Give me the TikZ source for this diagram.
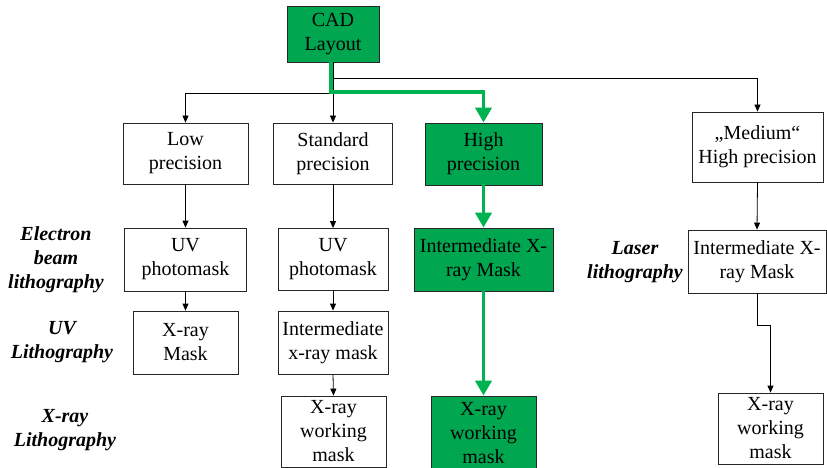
\documentclass[tikz,border=0pt]{standalone}
\usepackage{fontspec}
\setmainfont{Liberation Serif}
\usetikzlibrary{arrows.meta}
\definecolor{boxgreen}{RGB}{0,166,80}
\definecolor{linegreen}{RGB}{0,178,80}
\tikzset{
  box/.style={draw=black!85, line width=0.8pt, fill=white, inner sep=0pt, align=center,
    font=\fontsize{20}{24}\selectfont, minimum width=#1},
  gbox/.style={box=#1, fill=boxgreen},
  lab/.style={align=center, inner sep=0pt, font=\fontsize{20}{24}\selectfont\bfseries\itshape},
  conn/.style={line width=0.8pt, -{Triangle[length=7pt,width=6pt]}},
  gconn/.style={draw=linegreen, line width=3.8pt, -{Triangle[length=15pt,width=16pt]}},
}
\begin{document}
\begin{tikzpicture}[x=1pt,y=-1pt]
\useasboundingbox (0,0) rectangle (827,468);
% boxes
\node[gbox=92pt, minimum height=56pt] (cad) at (333,34) {CAD\\Layout};
\node[box=125pt, minimum height=61pt] (low) at (185.5,153.5) {Low\\precision};
\node[box=119pt, minimum height=61pt] (std) at (333,153.5) {Standard\\precision};
\node[gbox=117pt, minimum height=62pt] (high) at (483.5,154) {High\\precision};
\node[box=131pt, minimum height=70pt] (med) at (757.5,147) {„Medium“\\High precision};
\node[box=122pt, minimum height=63pt] (uva) at (185.5,259.5) {UV\\photomask};
\node[box=110pt, minimum height=62pt] (uvb) at (333,259.5) {UV\\photomask};
\node[gbox=139pt, minimum height=63pt] (imh) at (483.5,259.5) {Intermediate X-\\ray Mask};
\node[box=138pt, minimum height=63pt] (imr) at (757,261.5) {Intermediate X-\\ray Mask};
\node[box=105pt, minimum height=63pt] (xm) at (185.5,342.5) {X-ray\\Mask};
\node[box=110pt, minimum height=63pt] (imx) at (333,342.5) {Intermediate\\x-ray mask};
\node[box=105pt, minimum height=71pt] (xwb) at (333.5,431.5) {X-ray\\working\\mask};
\node[gbox=105pt, minimum height=74pt] (xwg) at (483.5,433) {X-ray\\working\\mask};
\node[box=105pt, minimum height=71pt] (xwr) at (770.5,428.5) {X-ray\\working\\mask};
% labels
\node[lab] (eb) at (56,260) {Electron\\beam\\lithography};
\node[lab] (uvl) at (62,342) {UV\\Lithography};
\node[lab] (xrl) at (65,430) {X-ray\\Lithography};
\node[lab] (las) at (635,262) {Laser\\lithography};
% junctions
\coordinate (j1) at (333,93);
\coordinate (j2) at (333,78);
\coordinate (g1) at (331,92);
\coordinate (k1) at (757,325);
% black connectors
\draw[conn] (cad.south) -- (std.north);
\draw[conn] (j1) -| (low.north);
\draw[conn] (j2) -| (med.north);
\draw[conn] (low.south) -- (uva.north);
\draw[conn] (uva.south) -- (xm.north);
\draw[conn] (std.south) -- (uvb.north);
\draw[conn] (uvb.south) -- (imx.north);
\draw[conn] (imx.south) -- (xwb.north);
\draw[conn] (med.south) -- (imr.north);
\draw[conn] (imr.south) -- (imr.south |- k1) -| (xwr.north);
% green connectors
\draw[gconn] ([xshift=-2pt]cad.south) -- ([xshift=-2pt]cad.south |- g1) -| (high.north);
\draw[gconn] (high.south) -- (imh.north);
\draw[gconn] (imh.south) -- (xwg.north);
\end{tikzpicture}
\end{document}
